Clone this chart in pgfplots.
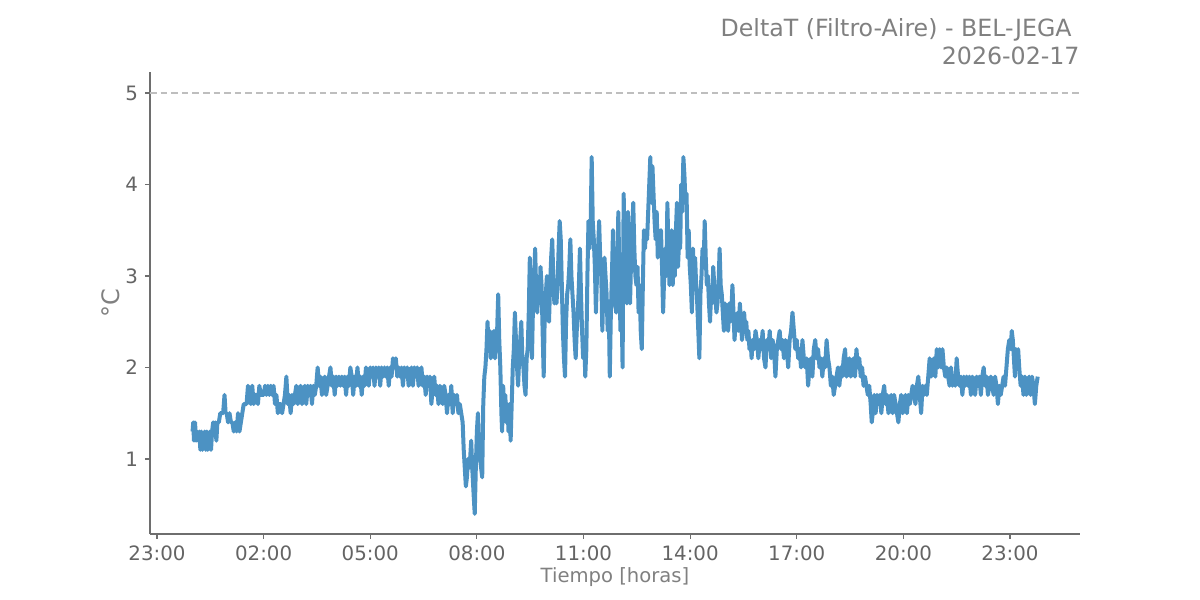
\documentclass[border=0pt]{standalone}
\usepackage{fontspec}
\setmainfont{DejaVu Sans}
\usepackage{pgfplots}
\pgfplotsset{compat=1.18}
\definecolor{linec}{RGB}{76,146,195}
\definecolor{spinec}{RGB}{110,110,110}
\definecolor{tickc}{RGB}{100,100,100}
\definecolor{titlec}{RGB}{128,128,128}
\definecolor{dashc}{RGB}{190,190,190}
\begin{document}
\begin{tikzpicture}
\useasboundingbox (-75bp,-33bp) rectangle (525bp,267bp);
\begin{axis}[
  at={(0,0)}, anchor=south west,
  scale only axis, width=465bp, height=231bp,
  xmin=-1.197, xmax=24.97, ymin=0.18, ymax=5.229,
  axis x line*=bottom, axis y line*=left,
  axis line style={draw=spinec, line width=0.6bp, -},
  tick align=outside, major tick length=2.5bp,
  tick style={draw=spinec, line width=0.6bp},
  xtick={-1,2,5,8,11,14,17,20,23},
  xticklabels={23:00,02:00,05:00,08:00,11:00,14:00,17:00,20:00,23:00},
  ytick={1,2,3,4,5},
  /pgf/number format/assume math mode=true,
  ticklabel style={font=\fontsize{9.9bp}{11bp}\selectfont, text=tickc},
  xticklabel style={yshift=0.3bp},
  xlabel={Tiempo [horas]}, ylabel={°C},
  xlabel style={font=\fontsize{9.8bp}{11bp}\selectfont, text=titlec, at={(axis description cs:0.5,-0.0931)}, anchor=center},
  ylabel style={font=\fontsize{12bp}{14bp}\selectfont, text=titlec, at={(axis description cs:-0.042,0.5)}, anchor=center, rotate=0},
  clip=false,
]
\addplot[dashc, line width=0.75bp, dash pattern=on 3.3bp off 2bp, forget plot] coordinates {(-1.197,5) (24.97,5)};
\addplot[linec, line width=2bp, line join=round, no marks] table {
x y
0.00 1.3
0.02 1.4
0.04 1.2
0.07 1.4
0.10 1.2
0.13 1.3
0.16 1.2
0.19 1.3
0.22 1.1
0.25 1.3
0.28 1.1
0.31 1.2
0.34 1.3
0.37 1.1
0.40 1.3
0.43 1.1
0.46 1.2
0.49 1.3
0.52 1.1
0.55 1.3
0.58 1.4
0.61 1.3
0.64 1.4
0.67 1.2
0.70 1.4
0.74 1.4
0.78 1.5
0.82 1.5
0.86 1.5
0.90 1.7
0.93 1.5
0.96 1.5
1.00 1.4
1.04 1.5
1.08 1.4
1.12 1.4
1.16 1.3
1.20 1.4
1.24 1.3
1.28 1.5
1.32 1.3
1.36 1.4
1.40 1.5
1.44 1.6
1.48 1.6
1.52 1.6
1.56 1.8
1.60 1.7
1.64 1.6
1.68 1.8
1.72 1.6
1.76 1.7
1.80 1.7
1.84 1.6
1.88 1.8
1.92 1.7
1.96 1.7
2.00 1.7
2.04 1.8
2.08 1.7
2.12 1.8
2.16 1.7
2.20 1.8
2.24 1.7
2.28 1.8
2.32 1.6
2.36 1.7
2.40 1.5
2.44 1.6
2.48 1.6
2.52 1.5
2.56 1.6
2.60 1.7
2.64 1.9
2.68 1.6
2.72 1.7
2.76 1.5
2.80 1.7
2.84 1.6
2.88 1.7
2.92 1.8
2.96 1.6
3.00 1.7
3.04 1.8
3.08 1.6
3.12 1.7
3.16 1.8
3.20 1.6
3.24 1.8
3.28 1.7
3.32 1.8
3.36 1.6
3.40 1.8
3.44 1.7
3.48 1.8
3.52 2.0
3.56 1.8
3.60 1.9
3.64 1.7
3.68 1.8
3.72 1.9
3.76 1.7
3.80 1.8
3.84 1.9
3.88 2.0
3.92 1.8
3.96 1.9
4.00 1.7
4.04 1.9
4.08 1.8
4.12 1.9
4.16 1.8
4.20 1.9
4.24 1.8
4.28 1.9
4.32 1.7
4.36 1.9
4.40 1.8
4.44 2.0
4.48 1.9
4.52 1.7
4.56 1.9
4.60 1.8
4.64 2.0
4.68 1.8
4.72 1.9
4.76 1.7
4.80 1.9
4.84 1.8
4.88 2.0
4.92 1.9
4.96 1.8
5.00 2.0
5.04 1.9
5.08 2.0
5.12 1.8
5.16 2.0
5.20 1.9
5.24 2.0
5.28 1.8
5.32 2.0
5.36 1.9
5.40 2.0
5.44 1.9
5.48 2.0
5.52 1.8
5.56 2.0
5.60 1.9
5.64 2.1
5.68 2.0
5.72 2.1
5.76 1.9
5.80 2.0
5.84 1.9
5.88 2.0
5.92 1.8
5.96 2.0
6.00 1.9
6.04 2.0
6.08 1.8
6.12 1.9
6.16 2.0
6.20 1.8
6.24 2.0
6.28 1.9
6.32 2.0
6.36 1.8
6.40 1.9
6.44 2.0
6.48 1.8
6.52 1.9
6.56 1.7
6.60 1.9
6.64 1.8
6.68 1.9
6.72 1.6
6.76 1.8
6.80 1.9
6.84 1.7
6.88 1.8
6.92 1.6
6.96 1.8
7.00 1.7
7.04 1.6
7.08 1.8
7.12 1.7
7.16 1.5
7.20 1.7
7.24 1.6
7.28 1.8
7.32 1.5
7.36 1.7
7.40 1.6
7.44 1.7
7.48 1.5
7.52 1.6
7.56 1.5
7.60 1.4
7.63 1.1
7.66 0.9
7.69 0.7
7.72 0.8
7.75 1.0
7.78 0.9
7.81 1.0
7.84 1.2
7.87 0.9
7.91 0.6
7.94 0.4
7.97 0.9
8.00 1.3
8.03 1.5
8.06 1.1
8.09 1.0
8.12 0.9
8.15 0.8
8.18 1.6
8.21 1.9
8.24 2.0
8.27 2.2
8.30 2.5
8.33 2.2
8.36 2.4
8.39 2.1
8.42 2.3
8.45 2.2
8.48 2.4
8.51 2.1
8.54 2.3
8.57 2.4
8.60 2.8
8.63 2.3
8.66 2.0
8.69 1.5
8.71 1.3
8.74 1.8
8.77 1.5
8.80 1.7
8.83 1.4
8.86 1.6
8.89 1.3
8.92 1.6
8.95 1.2
8.98 1.6
9.01 2.0
9.04 2.2
9.07 2.6
9.10 2.3
9.13 2.0
9.16 1.8
9.19 2.1
9.22 2.3
9.25 2.5
9.28 2.1
9.31 2.0
9.34 1.8
9.37 1.7
9.40 2.1
9.43 2.2
9.46 2.6
9.49 3.2
9.52 2.5
9.55 2.1
9.58 2.7
9.61 3.0
9.64 3.3
9.67 2.8
9.70 2.6
9.73 2.9
9.76 2.7
9.79 3.1
9.82 2.9
9.85 2.4
9.88 1.9
9.91 2.6
9.94 2.8
9.97 3.0
10.00 2.6
10.03 2.5
10.06 2.9
10.09 3.2
10.12 3.4
10.15 3.0
10.18 2.7
10.21 2.9
10.24 2.7
10.27 2.9
10.30 3.3
10.33 3.6
10.36 3.4
10.39 2.9
10.42 2.4
10.45 2.1
10.48 1.9
10.51 2.5
10.54 2.8
10.57 2.9
10.60 3.1
10.63 3.4
10.66 3.0
10.69 2.8
10.72 2.6
10.75 2.3
10.78 2.1
10.81 2.4
10.84 2.6
10.87 2.9
10.90 3.3
10.93 2.8
10.96 2.4
10.99 2.1
11.02 2.3
11.05 1.9
11.08 2.2
11.11 3.0
11.14 3.6
11.17 3.3
11.20 3.5
11.23 4.3
11.26 3.6
11.29 3.4
11.32 3.1
11.35 2.6
11.38 3.0
11.41 3.3
11.44 3.6
11.47 3.2
11.50 3.0
11.53 2.4
11.56 2.9
11.59 3.2
11.62 3.0
11.65 2.8
11.68 2.4
11.71 2.7
11.74 1.9
11.77 2.6
11.80 3.0
11.83 3.5
11.86 3.0
11.89 2.7
11.92 2.6
11.95 3.0
11.98 3.7
12.01 3.0
12.04 2.4
12.07 2.7
12.10 2.0
12.13 3.9
12.16 3.3
12.19 2.9
12.22 2.7
12.25 3.7
12.28 3.1
12.31 2.7
12.34 3.2
12.37 3.5
12.40 3.8
12.43 3.3
12.46 3.0
12.49 2.9
12.52 3.1
12.55 2.6
12.58 2.9
12.61 2.4
12.64 2.2
12.67 2.9
12.70 3.5
12.73 3.3
12.76 3.5
12.79 3.4
12.82 3.7
12.85 4.0
12.88 4.3
12.91 3.8
12.94 4.2
12.97 3.9
13.00 3.6
13.03 3.4
13.06 3.7
13.09 3.2
13.12 3.5
13.15 3.3
13.18 3.5
13.21 3.1
13.24 2.6
13.27 3.0
13.30 3.3
13.33 3.0
13.36 3.8
13.39 3.3
13.42 2.9
13.45 3.2
13.48 3.5
13.51 2.9
13.54 3.2
13.57 3.0
13.60 3.5
13.63 3.8
13.66 3.1
13.69 3.4
13.72 3.3
13.75 4.0
13.78 3.7
13.81 4.3
13.84 4.1
13.87 3.8
13.90 3.9
13.93 3.2
13.96 3.5
13.99 3.1
14.02 2.9
14.05 2.6
14.08 3.3
14.11 3.0
14.14 3.2
14.17 2.9
14.20 2.7
14.23 2.4
14.26 2.1
14.29 2.8
14.32 3.0
14.35 3.3
14.38 3.1
14.41 3.6
14.44 3.2
14.47 2.9
14.50 3.0
14.53 2.7
14.56 2.5
14.59 2.8
14.62 2.7
14.65 3.1
14.68 2.9
14.71 2.8
14.74 2.6
14.77 2.7
14.80 2.9
14.83 3.3
14.86 2.9
14.89 2.8
14.92 2.6
14.95 2.4
14.98 2.7
15.01 2.5
15.04 2.6
15.07 2.4
15.10 2.7
15.13 2.5
15.16 2.6
15.19 2.9
15.22 2.6
15.25 2.3
15.28 2.5
15.31 2.4
15.34 2.6
15.37 2.4
15.40 2.7
15.43 2.5
15.46 2.3
15.49 2.4
15.52 2.6
15.55 2.4
15.58 2.5
15.61 2.3
15.64 2.4
15.67 2.2
15.70 2.3
15.73 2.1
15.76 2.3
15.80 2.2
15.84 2.4
15.88 2.3
15.92 2.1
15.96 2.3
16.00 2.2
16.04 2.4
16.08 2.1
16.12 2.0
16.16 2.3
16.20 2.2
16.24 2.4
16.28 2.1
16.32 2.3
16.36 2.2
16.40 1.9
16.44 2.2
16.48 2.3
16.52 2.4
16.56 2.2
16.60 2.3
16.64 2.1
16.68 2.3
16.72 2.2
16.76 2.0
16.80 2.3
16.84 2.4
16.88 2.6
16.92 2.4
16.96 2.2
17.00 2.3
17.04 2.1
17.08 2.2
17.12 2.0
17.16 2.3
17.20 2.1
17.24 2.0
17.28 2.1
17.32 1.8
17.36 2.0
17.40 2.1
17.44 1.9
17.48 2.2
17.52 2.3
17.56 2.1
17.60 2.2
17.64 2.0
17.68 2.1
17.72 1.9
17.76 2.1
17.80 2.0
17.84 2.3
17.88 2.1
17.92 2.0
17.96 1.8
18.00 1.9
18.04 1.7
18.08 1.8
18.12 1.9
18.16 2.0
18.20 1.8
18.24 2.0
18.28 1.9
18.32 2.1
18.36 2.2
18.40 1.9
18.44 2.0
18.48 2.1
18.52 1.9
18.56 2.0
18.60 2.1
18.64 1.9
18.68 2.2
18.72 2.0
18.76 2.1
18.80 1.9
18.84 2.0
18.88 1.8
18.92 1.9
18.96 1.8
19.00 1.7
19.04 1.8
19.08 1.6
19.11 1.4
19.14 1.5
19.18 1.7
19.22 1.5
19.26 1.7
19.30 1.6
19.34 1.7
19.38 1.5
19.42 1.7
19.46 1.8
19.50 1.6
19.54 1.7
19.58 1.5
19.62 1.6
19.66 1.7
19.70 1.5
19.74 1.7
19.78 1.6
19.82 1.5
19.86 1.4
19.90 1.6
19.94 1.7
19.98 1.5
20.02 1.6
20.06 1.7
20.10 1.5
20.14 1.7
20.18 1.6
20.22 1.7
20.26 1.8
20.30 1.7
20.34 1.6
20.38 1.8
20.42 1.9
20.46 1.7
20.50 1.5
20.54 1.8
20.58 1.7
20.62 1.8
20.66 1.7
20.70 1.9
20.74 2.1
20.78 1.9
20.82 2.0
20.86 2.1
20.90 1.9
20.94 2.2
20.98 2.0
21.02 2.2
21.06 2.0
21.10 2.2
21.14 2.0
21.18 1.9
21.22 2.0
21.26 1.9
21.30 1.8
21.34 2.0
21.38 1.8
21.42 1.9
21.46 1.8
21.50 2.1
21.54 1.9
21.58 1.8
21.62 1.9
21.66 1.7
21.70 1.9
21.74 1.8
21.78 1.9
21.82 1.8
21.86 1.9
21.90 1.7
21.94 1.9
21.98 1.8
22.02 1.7
22.06 1.9
22.10 1.8
22.14 1.9
22.18 1.7
22.22 1.9
22.26 2.0
22.30 1.8
22.34 1.9
22.38 1.7
22.42 1.8
22.46 1.9
22.50 1.8
22.54 1.7
22.58 1.9
22.62 1.8
22.66 1.6
22.70 1.8
22.74 1.7
22.78 1.8
22.82 1.9
22.86 1.8
22.90 2.0
22.94 2.2
22.98 2.3
23.02 2.2
23.05 2.4
23.08 2.3
23.11 2.1
23.14 1.9
23.17 2.2
23.20 2.1
23.23 2.2
23.26 2.0
23.30 1.8
23.34 1.9
23.38 1.7
23.42 1.9
23.46 1.7
23.50 1.8
23.54 1.9
23.58 1.7
23.62 1.9
23.66 1.8
23.70 1.6
23.74 1.8
23.78 1.9
};
\node[anchor=base east, font=\fontsize{11.85bp}{14bp}\selectfont, text=titlec, inner sep=0pt] at (rel axis cs:0.9914,1.0758) {DeltaT (Filtro-Aire) - BEL-JEGA};
\node[anchor=base east, font=\fontsize{11.85bp}{14bp}\selectfont, text=titlec, inner sep=0pt] at (rel axis cs:1.0,1.0173) {2026-02-17};
\end{axis}
\end{tikzpicture}
\end{document}
